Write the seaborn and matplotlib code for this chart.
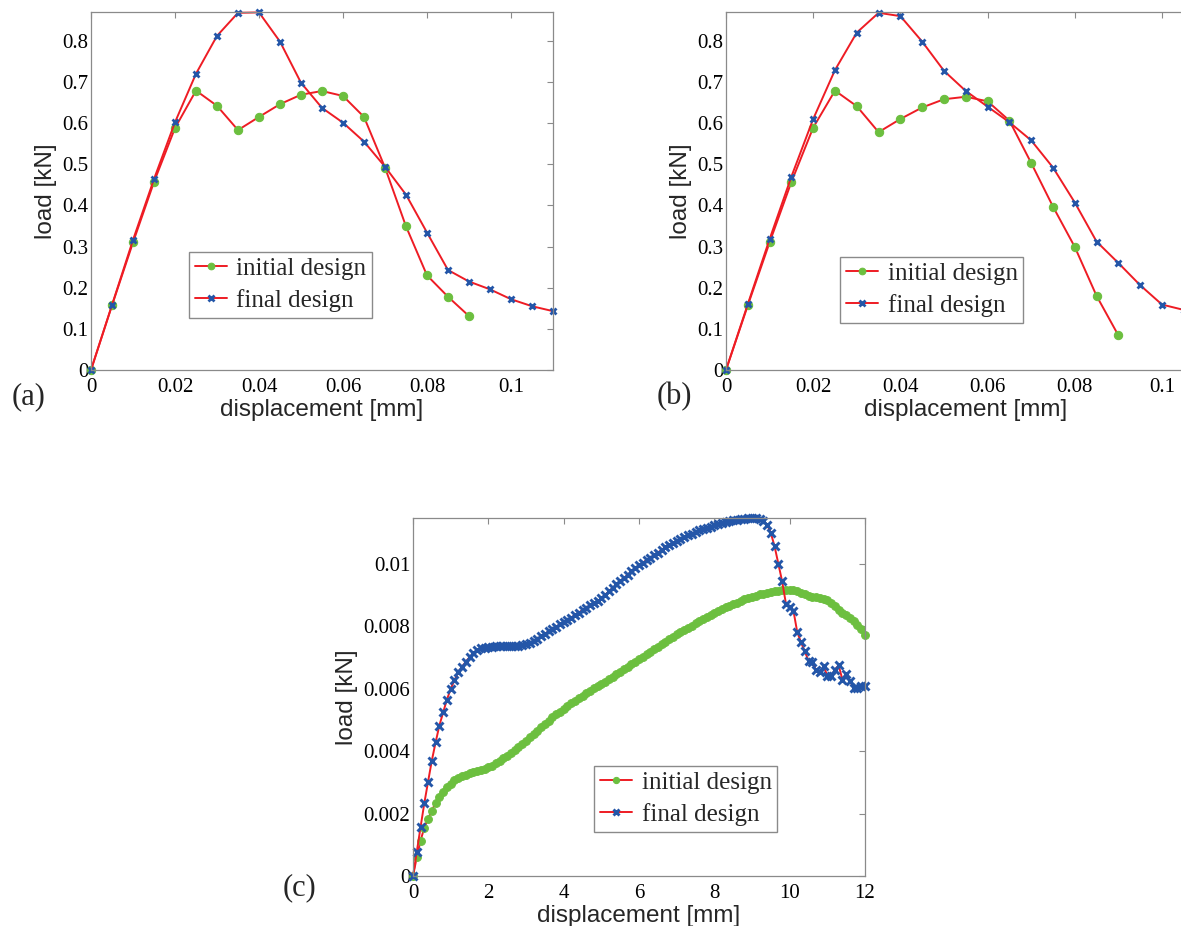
import numpy as np
import seaborn as sns
import matplotlib
import matplotlib.pyplot as plt
from matplotlib.ticker import FuncFormatter
matplotlib.use("Agg")

# ---- data ----
disp_ab = [0, 0.005, 0.01, 0.015, 0.02, 0.025, 0.03, 0.035, 0.04, 0.045, 0.05,
           0.055, 0.06, 0.065, 0.07, 0.075, 0.08, 0.085, 0.09, 0.095, 0.1, 0.105, 0.11]

init_a = [0, 0.157, 0.310, 0.457, 0.588, 0.679, 0.642, 0.583, 0.615, 0.646, 0.669,
          0.678, 0.666, 0.615, 0.492, 0.349, 0.230, 0.178, 0.131]
final_a = [0, 0.158, 0.316, 0.464, 0.602, 0.720, 0.812, 0.868, 0.869, 0.798, 0.698,
           0.637, 0.601, 0.555, 0.494, 0.426, 0.334, 0.243, 0.215, 0.196, 0.172, 0.155, 0.143]

init_b = [0, 0.157, 0.310, 0.457, 0.589, 0.679, 0.641, 0.578, 0.610, 0.638, 0.658,
          0.664, 0.653, 0.606, 0.503, 0.397, 0.299, 0.180, 0.084]
final_b = [0, 0.160, 0.318, 0.470, 0.610, 0.729, 0.820, 0.868, 0.860, 0.798, 0.727,
           0.678, 0.640, 0.602, 0.558, 0.492, 0.407, 0.312, 0.260, 0.206, 0.159, 0.146]

disp_c = [0.0, 0.1, 0.2, 0.3, 0.4, 0.5, 0.6, 0.7, 0.8, 0.9,
          1.0, 1.1, 1.2, 1.3, 1.4, 1.5, 1.6, 1.7, 1.8, 1.9,
          2.0, 2.1, 2.2, 2.3, 2.4, 2.5, 2.6, 2.7, 2.8, 2.9,
          3.0, 3.1, 3.2, 3.3, 3.4, 3.5, 3.6, 3.7, 3.8, 3.9,
          4.0, 4.1, 4.2, 4.3, 4.4, 4.5, 4.6, 4.7, 4.8, 4.9,
          5.0, 5.1, 5.2, 5.3, 5.4, 5.5, 5.6, 5.7, 5.8, 5.9,
          6.0, 6.1, 6.2, 6.3, 6.4, 6.5, 6.6, 6.7, 6.8, 6.9,
          7.0, 7.1, 7.2, 7.3, 7.4, 7.5, 7.6, 7.7, 7.8, 7.9,
          8.0, 8.1, 8.2, 8.3, 8.4, 8.5, 8.6, 8.7, 8.8, 8.9,
          9.0, 9.1, 9.2, 9.3, 9.4, 9.5, 9.6, 9.7, 9.8, 9.9,
          10.0, 10.1, 10.2, 10.3, 10.4, 10.5, 10.6, 10.7, 10.8, 10.9,
          11.0, 11.1, 11.2, 11.3, 11.4, 11.5, 11.6, 11.7, 11.8, 11.9,
          12.0]

init_c = [0.0, 0.00060, 0.00113, 0.00155, 0.00184, 0.00209, 0.00235, 0.00253, 0.00269, 0.00284,
          0.00296, 0.00306, 0.00314, 0.00320, 0.00325, 0.00329, 0.00332, 0.00335, 0.00339, 0.00343,
          0.00348, 0.00354, 0.00361, 0.00369, 0.00377, 0.00385, 0.00394, 0.00403, 0.00413, 0.00423,
          0.00433, 0.00444, 0.00455, 0.00466, 0.00477, 0.00488, 0.00498, 0.00508, 0.00518, 0.00527,
          0.00536, 0.00545, 0.00553, 0.00561, 0.00569, 0.00577, 0.00585, 0.00593, 0.00601, 0.00608,
          0.00615, 0.00623, 0.00630, 0.00638, 0.00646, 0.00654, 0.00662, 0.00670, 0.00678, 0.00686,
          0.00694, 0.00702, 0.00710, 0.00718, 0.00726, 0.00734, 0.00742, 0.00750, 0.00758, 0.00766,
          0.00774, 0.00781, 0.00788, 0.00795, 0.00802, 0.00809, 0.00816, 0.00823, 0.00830, 0.00837,
          0.00843, 0.00849, 0.00855, 0.00861, 0.00866, 0.00871, 0.00876, 0.00881, 0.00886, 0.00890,
          0.00894, 0.00898, 0.00902, 0.00905, 0.00908, 0.00910, 0.00912, 0.00914, 0.00915, 0.00916,
          0.00916, 0.00915, 0.00912, 0.00908, 0.00903, 0.00898, 0.00895, 0.00893, 0.00891, 0.00889,
          0.00884, 0.00876, 0.00866, 0.00853, 0.00843, 0.00835, 0.00826, 0.00817, 0.00803, 0.00790,
          0.00772]

final_c = [0.0, 0.00077, 0.00156, 0.00233, 0.00302, 0.00370, 0.00428, 0.00482, 0.00524, 0.00565,
           0.00599, 0.00627, 0.00653, 0.00670, 0.00686, 0.00701, 0.00714, 0.00723, 0.00729, 0.00732,
           0.00734, 0.00735, 0.00736, 0.00736, 0.00736, 0.00736, 0.00736, 0.00737, 0.00738, 0.00740,
           0.00743, 0.00747, 0.00753, 0.00760, 0.00768, 0.00776, 0.00784, 0.00791, 0.00799, 0.00806,
           0.00813, 0.00820, 0.00828, 0.00836, 0.00844, 0.00852, 0.00860, 0.00867, 0.00874, 0.00881,
           0.00890, 0.00901, 0.00912, 0.00923, 0.00934, 0.00945, 0.00955, 0.00965, 0.00976, 0.00986,
           0.00995, 0.01004, 0.01012, 0.01020, 0.01028, 0.01036, 0.01045, 0.01054, 0.01061, 0.01067,
           0.01073, 0.01079, 0.01085, 0.01091, 0.01097, 0.01102, 0.01107, 0.01111, 0.01115, 0.01119,
           0.01123, 0.01127, 0.01130, 0.01133, 0.01136, 0.01139, 0.01141, 0.01143, 0.01145, 0.01146,
           0.01147, 0.01146, 0.01144, 0.01137, 0.01126, 0.01099, 0.01056, 0.01000, 0.00944, 0.00873,
           0.00862, 0.00850, 0.00782, 0.00749, 0.00720, 0.00690, 0.00686, 0.00659, 0.00653, 0.00672,
           0.00642, 0.00640, 0.00661, 0.00675, 0.00629, 0.00646, 0.00624, 0.00603, 0.00603, 0.00610,
           0.00610]

labels = ["initial design", "final design"]

RED = "#ee1c24"
GREEN = "#6cbf3f"
BLUE = "#2456a8"
GREY = "#8a8a8a"

sns.set_theme(style="white")
plt.rcParams["font.family"] = ["Liberation Serif", "DejaVu Serif"]
plt.rcParams["axes.edgecolor"] = GREY
plt.rcParams["axes.linewidth"] = 0.9

fig = plt.figure(figsize=(11.81, 9.26), dpi=100)
W, H = 1181, 926


def px_axes(left, top, right, bottom):
    return fig.add_axes([left / W, 1 - bottom / H, (right - left) / W, (bottom - top) / H])


def style_axes(ax, xlim, ylim, xticks, yticks):
    ax.set_xlim(*xlim)
    ax.set_ylim(*ylim)
    ax.set_xticks(xticks)
    ax.set_yticks(yticks)
    fmt = FuncFormatter(lambda v, _: f"{v:g}")
    ax.xaxis.set_major_formatter(fmt)
    ax.yaxis.set_major_formatter(fmt)
    ax.tick_params(direction="in", length=4, width=0.8, color=GREY, labelcolor="black",
                   labelsize=15, top=True, right=True)
    ax.tick_params(axis="x", pad=6)
    ax.tick_params(axis="y", pad=2)
    for s in ax.spines.values():
        s.set_visible(True)
    ax.set_xlabel("displacement [mm]", family="Liberation Sans", fontsize=17.5, labelpad=1)
    ax.set_ylabel("load [kN]", family="Liberation Sans", fontsize=17.5, labelpad=4)


def draw(ax, x_init, y_init, x_final, y_final, ms_o, ms_x, mew):
    sns.lineplot(x=x_init, y=y_init, ax=ax, color=RED, lw=1.4, marker="o", ms=ms_o,
                 markerfacecolor=GREEN, markeredgecolor=GREEN, label=labels[0],
                 sort=False, errorbar=None, clip_on=False)
    sns.lineplot(x=x_final, y=y_final, ax=ax, color=RED, lw=1.4, marker="x", ms=ms_x,
                 markeredgewidth=mew, markeredgecolor=BLUE, label=labels[1],
                 sort=False, errorbar=None, clip_on=False)


def legend(ax, left, top):
    ax.legend(loc="upper left", bbox_to_anchor=(left / W, 1 - top / H),
              bbox_transform=fig.transFigure, borderaxespad=0, fontsize=18,
              frameon=True, fancybox=False, framealpha=1, edgecolor=GREY,
              handlelength=1.28, handletextpad=0.4, labelspacing=0.37, borderpad=0.22,
              markerscale=0.8)


# (a)
ax_a = px_axes(91, 12, 553, 370)
draw(ax_a, disp_ab[:len(init_a)], init_a, disp_ab[:len(final_a)], final_a, 6, 4.8, 2.0)
style_axes(ax_a, (0, 0.11), (0, 0.87), [0, 0.02, 0.04, 0.06, 0.08, 0.1],
           [0, 0.1, 0.2, 0.3, 0.4, 0.5, 0.6, 0.7, 0.8])
legend(ax_a, 189, 252)

# (b) - right part runs off the page like in the original
ax_b = px_axes(726, 12, 726 + 479.6, 370)
draw(ax_b, disp_ab[:len(init_b)], init_b, disp_ab[:len(final_b)], final_b, 6, 4.8, 2.0)
style_axes(ax_b, (0, 0.11), (0, 0.87), [0, 0.02, 0.04, 0.06, 0.08, 0.1],
           [0, 0.1, 0.2, 0.3, 0.4, 0.5, 0.6, 0.7, 0.8])
legend(ax_b, 840, 257)

# (c)
ax_c = px_axes(413, 518, 865, 876)
draw(ax_c, disp_c, init_c, disp_c, final_c, 5.6, 5.2, 2.1)
style_axes(ax_c, (0, 12), (0, 0.01147), [0, 2, 4, 6, 8, 10, 12],
           [0, 0.002, 0.004, 0.006, 0.008, 0.01])
legend(ax_c, 594, 766)

for lab, x, y in [("(a)", 29, 397), ("(b)", 674, 397), ("(c)", 300, 888)]:
    fig.text(x / W, 1 - y / H, lab, fontsize=22, ha="center", va="center")

fig.savefig("out.png", dpi=100)
